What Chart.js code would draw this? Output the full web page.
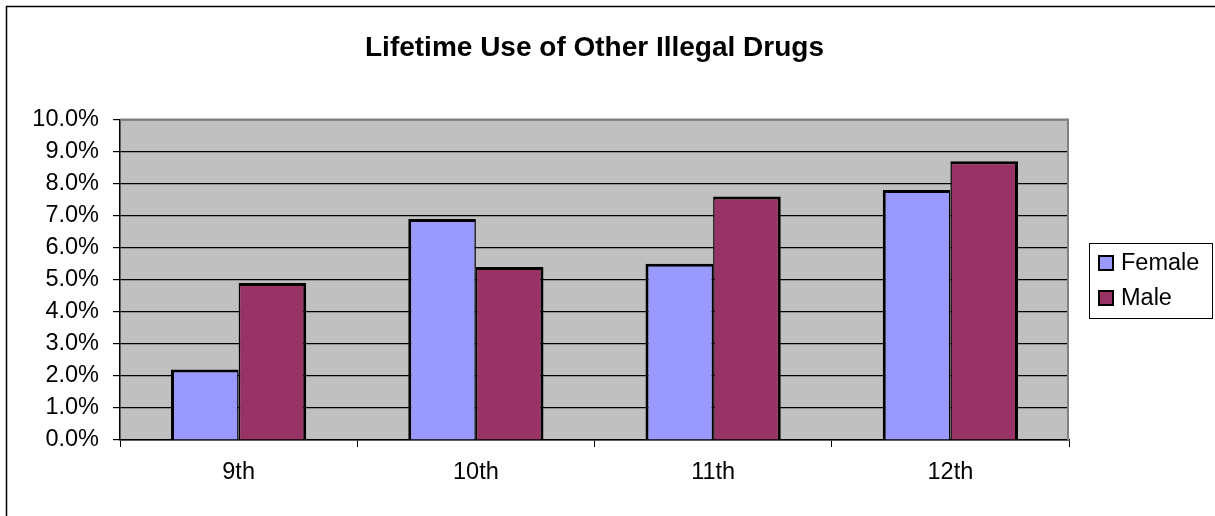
<!DOCTYPE html>
<html>
<head>
<meta charset="utf-8">
<title>Lifetime Use of Other Illegal Drugs</title>
<script src="https://cdn.jsdelivr.net/npm/chart.js@4.4.1/dist/chart.umd.min.js"></script>
<style>
  html, body { margin: 0; padding: 0; background: #fff; }
  #wrap { width: 1215px; height: 516px; }
</style>
</head>
<body>
<div id="wrap"><canvas id="drugChart" width="1215" height="516"></canvas></div>
<script>
// grades and percentages per group
const grades = ['9th', '10th', '11th', '12th'];
const female = [2.2, 6.9, 5.5, 7.8];
const male = [4.9, 5.4, 7.6, 8.7];
const yTicks = [0, 1, 2, 3, 4, 5, 6, 7, 8, 9, 10];

const FONT = 'Arial, "Liberation Sans", sans-serif';

// gray plot background, plus the outer chart frame
const plotBg = {
    id: 'plotBg',
    beforeDraw(chart) {
        const { ctx, chartArea: a } = chart;
        ctx.save();
        ctx.fillStyle = '#fff';
        ctx.fillRect(0, 0, chart.width, chart.height);
        ctx.strokeStyle = '#000';
        ctx.lineWidth = 1.5;
        ctx.beginPath();
        ctx.moveTo(6.5, chart.height + 2);
        ctx.lineTo(6.5, 6.5);
        ctx.lineTo(chart.width + 2, 6.5);
        ctx.stroke();
        ctx.fillStyle = '#c0c0c0';
        ctx.fillRect(a.left, a.top, a.right - a.left, a.bottom - a.top);
        ctx.restore();
    },
    beforeDatasetsDraw(chart) {
        // darker edge along the top and right of the plot area
        const { ctx, chartArea: a } = chart;
        ctx.save();
        ctx.strokeStyle = '#808080';
        ctx.lineWidth = 2;
        ctx.beginPath();
        ctx.moveTo(a.left, a.top);
        ctx.lineTo(a.right - 1, a.top);
        ctx.lineTo(a.right - 1, a.bottom);
        ctx.stroke();
        ctx.restore();
    }
};

// boxed legend on the right
const boxLegend = {
    id: 'boxLegend',
    afterDraw(chart) {
        const { ctx } = chart;
        const sets = chart.data.datasets;
        const x = 1089.5, y = 243.5, w = 123, h = 75;
        ctx.save();
        ctx.strokeStyle = '#000';
        ctx.lineWidth = 1;
        ctx.strokeRect(x, y, w, h);
        ctx.font = '23.5px ' + FONT;
        ctx.textBaseline = 'middle';
        sets.forEach((ds, i) => {
            const cy = 263 + i * 35;
            ctx.fillStyle = ds.backgroundColor;
            ctx.fillRect(1099, cy - 7, 14, 14);
            ctx.lineWidth = 2;
            ctx.strokeRect(1099, cy - 7, 14, 14);
            ctx.fillStyle = '#000';
            ctx.fillText(ds.label, 1121, cy + 1);
        });
        ctx.restore();
    }
};

new Chart(document.getElementById('drugChart'), {
    type: 'bar',
    data: {
        labels: grades,
        datasets: [
            {
                label: 'Female',
                data: female,
                backgroundColor: '#9999ff',
                borderColor: '#000',
                borderWidth: { top: 3, left: 3, right: 1.5, bottom: 0 },
                borderSkipped: 'start'
            },
            {
                label: 'Male',
                data: male,
                backgroundColor: '#993366',
                borderColor: '#000',
                borderWidth: { top: 3, left: 1.5, right: 3, bottom: 0 },
                borderSkipped: 'start'
            }
        ]
    },
    options: {
        responsive: false,
        animation: false,
        events: [],
        layout: { padding: { left: 0, right: 146, top: 0, bottom: 0 } },
        datasets: {
            bar: { categoryPercentage: 0.57, barPercentage: 1.0 }
        },
        plugins: {
            legend: { display: false },
            tooltip: { enabled: false },
            title: {
                display: true,
                text: 'Lifetime Use of Other Illegal Drugs',
                color: '#000',
                fullSize: false,
                font: { family: FONT, size: 28, weight: 'bold', lineHeight: 1.2 },
                padding: { top: 31, bottom: 55 }
            }
        },
        scales: {
            x: {
                grid: {
                    offset: true,
                    drawOnChartArea: false,
                    drawTicks: true,
                    tickLength: 7,
                    tickColor: '#000'
                },
                border: { display: true, color: '#000', width: 1.5 },
                ticks: {
                    color: '#000',
                    padding: 11,
                    font: { family: FONT, size: 23.5 }
                },
                afterFit(scale) { scale.height = 76; }
            },
            y: {
                min: 0,
                max: 10,
                afterBuildTicks(scale) {
                    scale.ticks = yTicks.map(v => ({ value: v }));
                },
                grid: {
                    color: '#000',
                    lineWidth: 1.2,
                    tickLength: 7,
                    tickColor: '#000'
                },
                border: { display: true, color: '#000', width: 1.5 },
                ticks: {
                    color: '#000',
                    padding: 14,
                    font: { family: FONT, size: 23.5 },
                    callback: v => v.toFixed(1) + '%'
                },
                afterFit(scale) { scale.width = 120; }
            }
        }
    },
    plugins: [plotBg, boxLegend]
});
</script>
</body>
</html>
